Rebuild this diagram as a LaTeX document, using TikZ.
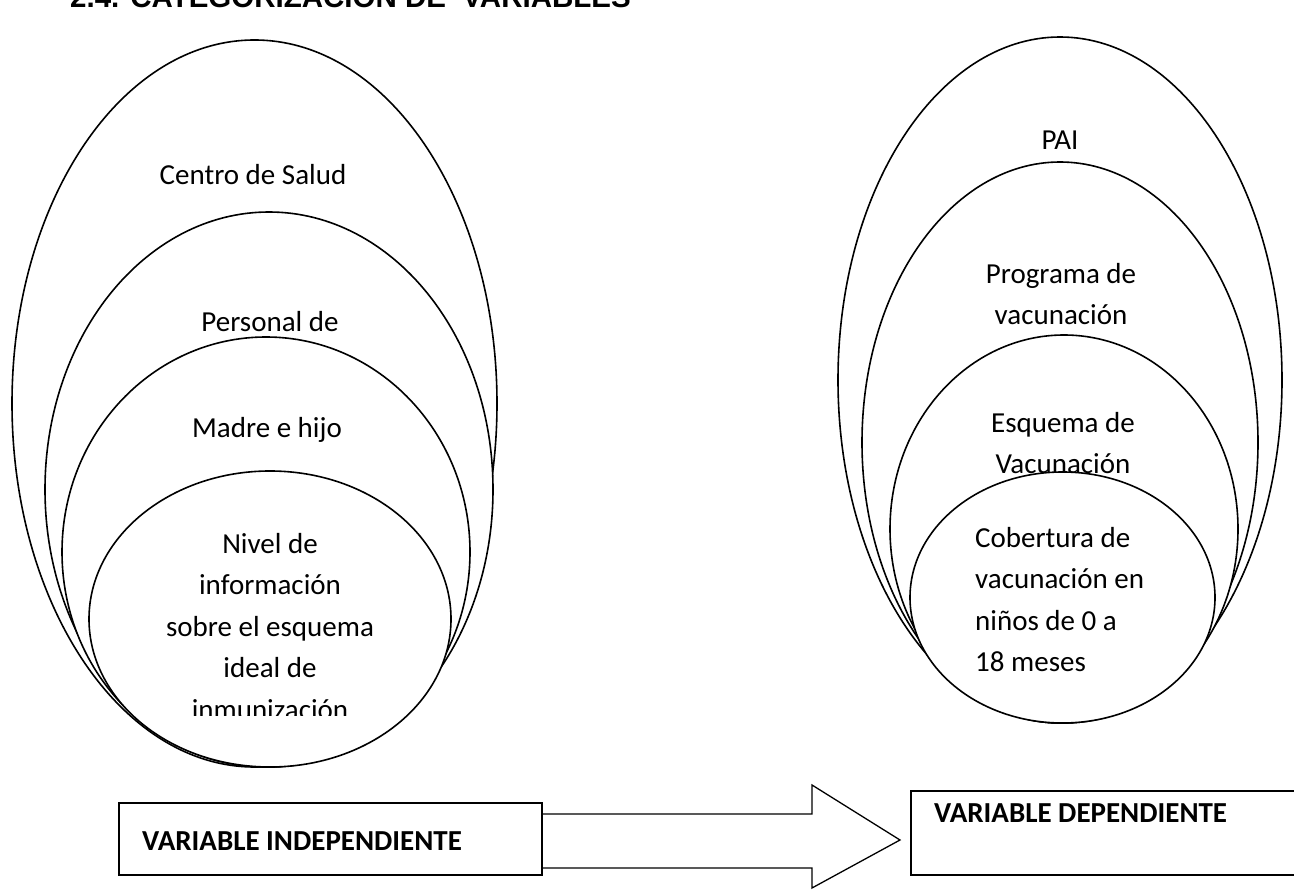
\documentclass[tikz,border=0pt]{standalone}
\usepackage{fontspec}
\setmainfont{Carlito}
\newfontfamily\titlefont{Liberation Sans}
\usetikzlibrary{shapes.geometric,calc}

\begin{document}
\begin{tikzpicture}[x=1pt,y=-1pt,
  ring/.style={ellipse, draw, fill=white, line width=1.6pt, inner sep=0pt, outer sep=0pt},
  % multi-line labels are placed by the baseline of their last line
  lbl/.style={font=\fontsize{29}{41.5}\selectfont, inner sep=0pt, align=center, anchor=base},
  lblleft/.style={font=\fontsize{29}{41.5}\selectfont, inner sep=0pt, align=left, anchor=base west},
  varbox/.style={draw, fill=white, line width=1.8pt, inner sep=0pt, outer sep=0pt, anchor=north west},
  vartext/.style={font=\bfseries\fontsize{29}{34}\selectfont, inner sep=0pt, anchor=base west},
  blockarrow/.style={draw, line width=1.3pt, line join=miter}
]
\useasboundingbox (0,0) rectangle (1294,890);
\clip (0,0) rectangle (1294,890);

% heading, set partly above the top edge
\node[anchor=base west, inner sep=0pt, font=\titlefont\bfseries\fontsize{29.5}{30}\selectfont]
  (title) at (70,7.5) {2.4. CATEGORIZACIÓN DE\ \ VARIABLES};

% independent variable: nested ellipses sharing a bottom point
\node[ring, minimum width=485, minimum height=727] (centro) at (254.5,403.5) {};
\node[lbl] (tcentro) at (253,185) {Centro de Salud};
\node[ring, minimum width=448, minimum height=555] (personal) at (269,489.5) {};
\node[lbl] (tpersonal) at (270,332) {Personal de};
\node[ring, minimum width=408, minimum height=430] (madre) at (266,552) {};
\node[lbl] (tmadre) at (267,438) {Madre e hijo};
\node[ring, minimum width=362, minimum height=296] (nivel) at (270,619) {};
\begin{scope}
  \clip (0,0) rectangle (1294,715);
  \node[lbl] (tnivel) at (270,719) {Nivel de\\información\\sobre el esquema\\ideal de\\inmunización};
\end{scope}

% dependent variable: nested ellipses sharing a bottom point
\node[ring, minimum width=444, minimum height=686] (pai) at (1060,380) {};
\node[lbl] (tpai) at (1060,150) {PAI};
\node[ring, minimum width=396, minimum height=561] (programa) at (1060,442.5) {};
\node[lbl] (tprograma) at (1061,325) {Programa de\\vacunación};
\node[ring, minimum width=348, minimum height=388] (esquema) at (1064,529) {};
\node[lbl] (tesquema) at (1063,474) {Esquema de\\Vacunación};
\node[ring, minimum width=305, minimum height=251] (cobertura) at (1062.5,597.5) {};
\node[lblleft] (tcobertura) at (975,671.5) {Cobertura de\\vacunación en\\niños de 0 a\\18 meses};

% variable boxes and the block arrow between them
\node[varbox, minimum width=423, minimum height=72] (indep) at (119,803) {};
\node[vartext] (tindep) at (142,850) {VARIABLE INDEPENDIENTE};
\node[varbox, minimum width=420, minimum height=84] (dep) at (911,791) {};
\node[vartext] (tdep) at (934,822) {VARIABLE DEPENDIENTE};

\coordinate (tip) at ($(dep.west)+(-11,7)$);
\draw[blockarrow] ($(indep.east)+(0,-25)$) -- (812,814) -- (812,785) -- (tip)
  -- (812,888) -- (812,868) -- ($(indep.east)+(0,29)$);
\end{tikzpicture}
\end{document}
